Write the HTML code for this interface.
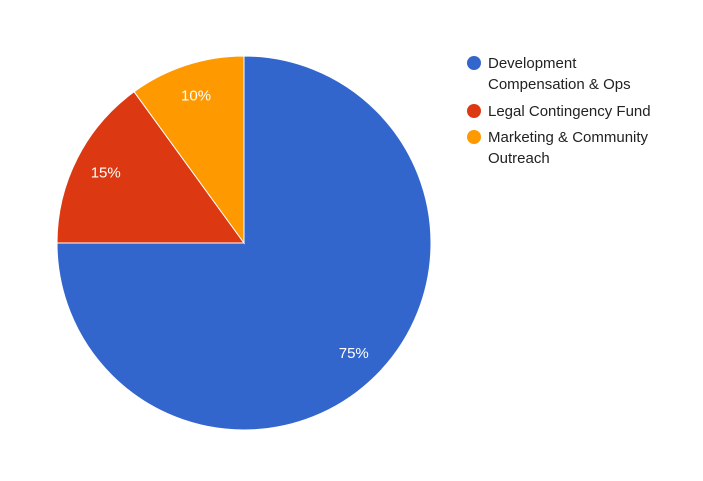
<!DOCTYPE html>
<html><head><meta charset="utf-8"><style>
html,body{margin:0;padding:0;background:#fff;}
svg{display:block;font-family:"Liberation Sans",Arial,sans-serif;}
</style></head><body>
<svg id="chart" width="703" height="481"></svg>
<script>
const categories = ["Development Compensation & Ops","Legal Contingency Fund","Marketing & Community Outreach"];
const values = [75,15,10];
const labels = ["75%","15%","10%"];
const colors = ["#3366cc","#dc3912","#ff9900"];
const legendLines = [["Development","Compensation & Ops"],["Legal Contingency Fund"],["Marketing & Community","Outreach"]];
const svg = document.getElementById('chart');
const NS = 'http://www.w3.org/2000/svg';
const cx=244, cy=243, r=187;
const total = values.reduce((a,b)=>a+b,0);
function pt(frac, rad){const a=frac*2*Math.PI - Math.PI/2; return [cx+rad*Math.cos(a), cy+rad*Math.sin(a)];}
let acc=0;
values.forEach((v,i)=>{
  const f0=acc/total, f1=(acc+v)/total; acc+=v;
  const [x0,y0]=pt(f0,r),[x1,y1]=pt(f1,r);
  const large=(f1-f0)>0.5?1:0;
  const p=document.createElementNS(NS,'path');
  p.setAttribute('d',`M${cx},${cy} L${x0},${y0} A${r},${r} 0 ${large} 1 ${x1},${y1} Z`);
  p.setAttribute('fill',colors[i]);p.setAttribute('stroke','#fff');p.setAttribute('stroke-width','1');
  
  
  svg.appendChild(p);
  const [lx,ly]=pt((f0+f1)/2, r*0.83);
  const t=document.createElementNS(NS,'text');
  t.setAttribute('x',lx);t.setAttribute('y',ly+5);t.setAttribute('text-anchor','middle');
  t.setAttribute('fill','#fff');t.setAttribute('font-size','15');t.textContent=labels[i];
  
  
  svg.appendChild(t);
});
let ly=63;
legendLines.forEach((lines,i)=>{
  const g=document.createElementNS(NS,'g');
  
  
  const c=document.createElementNS(NS,'circle');
  c.setAttribute('cx',474);c.setAttribute('cy',ly);c.setAttribute('r',7);c.setAttribute('fill',colors[i]);
  g.appendChild(c);
  lines.forEach((s,j)=>{
    const t=document.createElementNS(NS,'text');
    t.setAttribute('x',488);t.setAttribute('y',ly+5+j*21);t.setAttribute('font-size','15');t.setAttribute('fill','#222');
    t.textContent=s;g.appendChild(t);
  });
  svg.appendChild(g);
  ly+=lines.length*21+(lines.length>1?6:5);
});
</script>
</body></html>
